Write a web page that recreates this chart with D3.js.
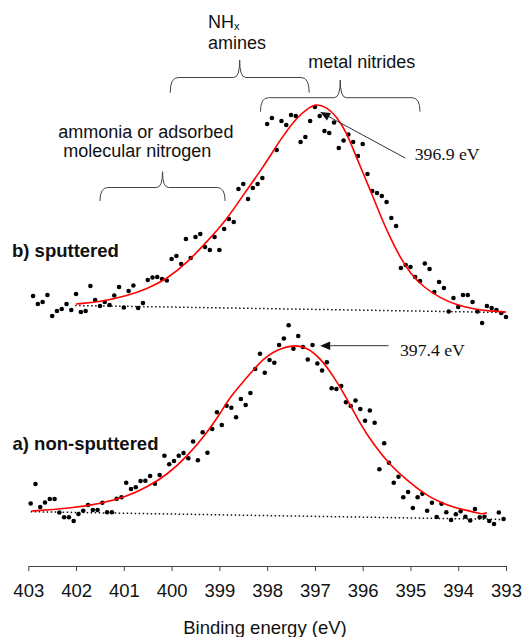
<!DOCTYPE html>
<html>
<head>
<meta charset="utf-8">
<style>
    body { margin: 0; background: #fff; }
    svg { display: block; }
    .lbl { font-family: Arial, "Liberation Sans", sans-serif; fill: #111; }
    .serif { font-family: "Times New Roman", "Liberation Serif", serif; fill: #111; }
    .axis text { font-family: Arial, "Liberation Sans", sans-serif; font-size: 18.5px; fill: #111; }
    .axis path, .axis line { stroke: #444; stroke-width: 1; }
</style>
</head>
<body>
<svg id="chart"></svg>
<script src="https://d3js.org/d3.v7.min.js"></script>
<script>
    var vWidth = 523;
    var vHeight = 637;

    // x tick labels (binding energy, eV)
    var xTicks = [403, 402, 401, 400, 399, 398, 397, 396, 395, 394, 393];

    // b) sputtered: measured points [eV, intensity a.u.]
    var sputteredPoints = [
        [402.9,270],[402.8,262],[402.7,264],[402.6,271],[402.5,250],[402.4,255],[402.3,257],[402.2,262],[402.1,256],[402.0,272],
        [401.9,254],[401.8,255],[401.7,280],[401.6,266],[401.5,260],[401.4,264],[401.3,261],[401.2,270.5],[401.1,279],[401.0,258.5],
        [400.9,275],[400.8,280.5],[400.7,258],[400.6,263],[400.5,286],[400.4,288.5],[400.3,289],[400.2,287],[400.1,285.5],[400.0,307],
        [399.9,310],[399.8,302],[399.7,327],[399.6,308],[399.5,329],[399.4,332],[399.3,319],[399.2,316],[399.1,329],[399.0,316],
        [398.9,337],[398.8,347],[398.7,344],[398.6,377],[398.5,382],[398.4,367],[398.3,378],[398.2,382],[398.1,388],[398.0,442],
        [397.9,448],[397.8,416],[397.7,445],[397.6,441],[397.5,451],[397.4,450],[397.3,424],[397.2,429],[397.1,445],[397.0,459],
        [396.9,450],[396.8,435],[396.7,433],[396.6,443.5],[396.5,418],[396.4,425.5],[396.3,431.5],[396.2,424],[396.1,410],[396.0,422],
        [395.9,392],[395.8,375],[395.7,373],[395.6,370],[395.5,364],[395.4,348],[395.3,340],[395.2,298],[395.1,301],[395.0,299],
        [394.9,289],[394.8,285],[394.7,302.5],[394.6,297],[394.5,274],[394.4,284],[394.3,278],[394.2,254.5],[394.1,268],[394.0,259],
        [393.9,271],[393.8,271],[393.7,264],[393.6,254.5],[393.5,243],[393.4,260],[393.3,258],[393.2,256],[393.1,253],[393.0,249]
    ];

    // b) sputtered: fitted envelope
    var sputteredFit = [
        [402.0,262],[401.5,264],[400.94,270],[400.52,277],[400.1,287],[399.68,303],[399.27,324],[398.85,346],
        [398.43,376],[398.08,399],[397.73,426],[397.38,449],[397.1,459],[396.98,462],[396.75,459],[396.54,449],
        [396.35,435],[396.1,405],[395.85,377],[395.6,347],[395.43,329],[395.22,309],[395.01,293],[394.73,279],
        [394.38,268],[394.03,261],[393.68,257],[393.33,255],[393.0,254]
    ];
    var sputteredBase = [[402.02,260.5],[393.0,253.5]];

    // a) non-sputtered: measured points [eV, intensity a.u.]
    var nonSputteredPoints = [
        [402.95,62.5],[402.85,82],[402.75,59],[402.65,63.5],[402.55,67],[402.45,67],[402.35,53.5],[402.25,48.7],[402.15,48.7],[402.05,45],
        [401.95,52],[401.85,55.3],[401.75,61],[401.65,56],[401.55,56],[401.45,63.3],[401.35,53.7],[401.25,53.7],[401.15,67.3],[401.05,68.7],
        [400.95,83.3],[400.85,77],[400.75,78.7],[400.65,85],[400.55,85.3],[400.45,90],[400.35,82.3],[400.25,91],[400.15,110.3],[400.05,101.7],
        [399.95,105],[399.85,110.3],[399.75,113],[399.65,107.7],[399.55,124.5],[399.45,105.7],[399.35,133.7],[399.25,113.3],[399.15,137],[399.05,153.7],
        [398.95,141],[398.85,160.3],[398.75,158.3],[398.65,148.7],[398.55,167],[398.45,161],[398.35,173],[398.25,197],[398.15,212.3],[398.05,193.3],
        [397.95,206],[397.85,203.3],[397.75,221],[397.65,227.5],[397.55,240.8],[397.45,217.3],[397.35,230],[397.25,219],[397.15,206.5],[397.05,221],
        [396.95,202.5],[396.85,195.5],[396.75,203.7],[396.65,177.7],[396.55,177],[396.45,180],[396.35,163.7],[396.25,160],[396.15,165.5],[396.05,157],
        [395.95,145.3],[395.85,155.5],[395.75,143.3],[395.65,96.7],[395.55,122.7],[395.45,103.3],[395.35,83.3],[395.25,89.3],[395.15,68.7],[395.05,74],
        [394.95,58],[394.85,68.7],[394.75,72.3],[394.65,55.3],[394.55,63.3],[394.45,49],[394.35,62.3],[394.25,53.7],[394.15,46],[394.05,51.8],
        [393.95,54.8],[393.85,49.3],[393.75,45.5],[393.65,57],[393.55,48.7],[393.45,49.2],[393.35,45],[393.25,42],[393.15,53.5],[393.05,47]
    ];

    // a) non-sputtered: fitted envelope
    var nonSputteredFit = [
        [402.94,55],[402.2,57.3],[401.5,62],[400.94,69.3],[400.52,78.7],[400.1,91],[399.68,109.3],[399.27,132.7],
        [399.0,151],[398.78,169],[398.43,188],[398.08,208],[397.73,218],[397.42,221],[397.17,218.7],[396.89,208],
        [396.62,190.5],[396.33,167.5],[396.06,142.7],[395.78,122],[395.43,101],[395.08,86],[394.73,72.7],
        [394.38,63.3],[394.03,57.7],[393.68,54.3],[393.51,51.5],[393.4,53.3]
    ];
    var nonSputteredBase = [[402.95,54.3],[393.0,46.5]];

    // peak annotations: arrow tip / tail and label [eV, intensity]
    var peakNotes = [
        {text: '396.9 eV', tip: [396.89, 454], tail: [395.11, 408], at: [394.91, 406]},
        {text: '397.4 eV', tip: [396.89, 220.3], tail: [395.46, 220.3], at: [395.22, 210]}
    ];

    // brace regions: energy range and heights [yEnds, yLine, yTip] in a.u.
    var braces = [
        {from: 400.03, to: 397.12, ends: 473.3, line: 488.5, tip: 506},
        {from: 398.14, to: 394.80, ends: 454.3, line: 468.3, tip: 486},
        {from: 401.50, to: 398.88, ends: 365, line: 378.5, tip: 394.3}
    ];

    var svg = d3.select('#chart').attr('width', vWidth).attr('height', vHeight);

    var x = d3.scaleLinear().domain([403, 393]).range([28.3, 506]);
    var y = d3.scaleLinear().domain([0, 550]).range([566, 16]);

    // axis
    var axis = d3.axisBottom(x).tickValues(xTicks).tickFormat(d3.format('d'))
        .tickSize(5).tickSizeOuter(0).tickPadding(13);
    svg.append('g').attr('class', 'axis').attr('transform', 'translate(0,566)').call(axis);

    svg.append('text').attr('class', 'lbl').attr('x', 265).attr('y', 634)
        .attr('text-anchor', 'middle').style('font-size', '18.5px').text('Binding energy (eV)');

    var line = d3.line().x(function (d) { return x(d[0]); }).y(function (d) { return y(d[1]); });
    var smooth = d3.line().curve(d3.curveBasis).x(function (d) { return x(d[0]); }).y(function (d) { return y(d[1]); });

    function drawSpectrum(points, fit, base) {
        svg.append('path').datum(base).attr('d', line)
            .attr('fill', 'none').attr('stroke', '#111').attr('stroke-width', 1.5)
            .attr('stroke-dasharray', '1.5,2.5');
        svg.append('g').selectAll('circle').data(points).enter().append('circle')
            .attr('cx', function (d) { return x(d[0]); })
            .attr('cy', function (d) { return y(d[1]); })
            .attr('r', 2.3).attr('fill', '#000');
        svg.append('path').datum(fit).attr('d', smooth)
            .attr('fill', 'none').attr('stroke', '#ff0000').attr('stroke-width', 1.6);
    }
    drawSpectrum(sputteredPoints, sputteredFit, sputteredBase);
    drawSpectrum(nonSputteredPoints, nonSputteredFit, nonSputteredBase);

    // panel labels
    svg.append('text').attr('class', 'lbl').attr('x', 12).attr('y', 257)
        .style('font-size', '18.5px').style('font-weight', 'bold').text('b) sputtered');
    svg.append('text').attr('class', 'lbl').attr('x', 12.5).attr('y', 450)
        .style('font-size', '18.5px').style('font-weight', 'bold').text('a) non-sputtered');

    // peak arrows
    peakNotes.forEach(function (n) {
        var tx = x(n.tip[0]), ty = y(n.tip[1]);
        var sx = x(n.tail[0]), sy = y(n.tail[1]);
        var a = Math.atan2(ty - sy, tx - sx);
        var len = 10, hw = 4.2;
        var bx = tx - len * Math.cos(a), by = ty - len * Math.sin(a);
        svg.append('line').attr('x1', sx).attr('y1', sy).attr('x2', bx).attr('y2', by)
            .attr('stroke', '#333').attr('stroke-width', 1);
        svg.append('path')
            .attr('d', 'M' + tx + ',' + ty +
                'L' + (bx + hw * Math.sin(a)) + ',' + (by - hw * Math.cos(a)) +
                'L' + (bx - hw * Math.sin(a)) + ',' + (by + hw * Math.cos(a)) + 'Z')
            .attr('fill', '#111');
        svg.append('text').attr('class', 'serif').attr('x', x(n.at[0])).attr('y', y(n.at[1]))
            .style('font-size', '17.7px').text(n.text);
    });

    // curly braces
    braces.forEach(function (b) {
        var x1 = x(b.from), x2 = x(b.to), xm = (x1 + x2) / 2;
        var ye = y(b.ends), yl = y(b.line), yt = y(b.tip);
        var r = 8, c = 6;
        var d = 'M' + x1 + ',' + ye +
            'Q' + x1 + ',' + yl + ' ' + (x1 + r) + ',' + yl +
            'L' + (xm - c) + ',' + yl +
            'Q' + xm + ',' + yl + ' ' + xm + ',' + yt +
            'Q' + xm + ',' + yl + ' ' + (xm + c) + ',' + yl +
            'L' + (x2 - r) + ',' + yl +
            'Q' + x2 + ',' + yl + ' ' + x2 + ',' + ye;
        svg.append('path').attr('d', d).attr('fill', 'none').attr('stroke', '#444').attr('stroke-width', 1);
    });

    // region labels
    var nh = svg.append('text').attr('class', 'lbl').attr('x', 208).attr('y', 28.3).style('font-size', '18px');
    nh.append('tspan').text('NH');
    nh.append('tspan').attr('dy', 2).style('font-size', '11px').text('x');
    svg.append('text').attr('class', 'lbl').attr('x', 208).attr('y', 49).style('font-size', '18px').text('amines');
    svg.append('text').attr('class', 'lbl').attr('x', 308.3).attr('y', 67.7).style('font-size', '18px').text('metal nitrides');
    svg.append('text').attr('class', 'lbl').attr('x', 58.3).attr('y', 138.3).style('font-size', '18px').text('ammonia or adsorbed');
    svg.append('text').attr('class', 'lbl').attr('x', 63.3).attr('y', 157).style('font-size', '18px').text('molecular nitrogen');
</script>
</body>
</html>
